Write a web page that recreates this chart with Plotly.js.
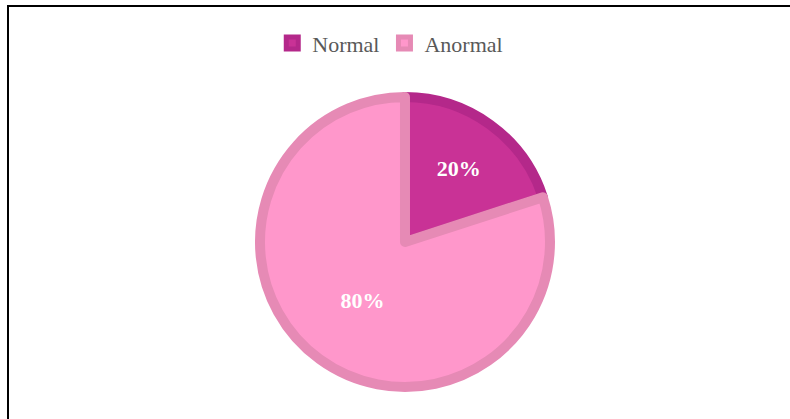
<!DOCTYPE html>
<html>
<head>
<meta charset="utf-8">
<script src="https://cdn.plot.ly/plotly-3.0.1.min.js"></script>
<style>
  html, body { margin: 0; padding: 0; background: #fff; }
  #graph-canvas { width: 790px; height: 419px; }
  #frame { position: absolute; left: 7px; top: 5px; right: 0; bottom: 0;
           border-left: 2px solid #000; border-top: 2px solid #000; pointer-events: none; }
</style>
</head>
<body>
<div id="graph-canvas"></div>
<div id="frame"></div>
<script>
var categories = ['Normal', 'Anormal'];
var shares = [20, 80];
var fillColors = ['#C93296', '#FF97CB'];
var edgeColors = ['#B4288A', '#E68AB5'];

function renderPie() {
    var serif = 'Times New Roman, Liberation Serif, serif';
    var data = [
        {
            type: 'pie',
            labels: categories,
            values: shares,
            sort: false,
            direction: 'clockwise',
            rotation: 0,
            marker: { colors: fillColors, line: { color: edgeColors, width: 10 } },
            textinfo: 'percent',
            texttemplate: '%{percent:.0%}',
            textposition: 'inside',
            insidetextorientation: 'horizontal',
            textfont: { family: serif, size: 22, color: '#ffffff', weight: 'bold' },
            domain: { x: [0.3291, 0.6962], y: [0.0764, 0.7685] },
            hoverinfo: 'none'
        }
    ];
    var layout = {
        width: 790,
        height: 419,
        margin: { l: 0, r: 0, t: 0, b: 0 },
        paper_bgcolor: '#ffffff',
        showlegend: true,
        legend: {
            orientation: 'h',
            x: 0.494, xanchor: 'center',
            y: 0.897, yanchor: 'middle',
            font: { family: serif, size: 22, color: '#595959' },
            itemclick: false
        }
    };
    Plotly.newPlot('graph-canvas', data, layout, { staticPlot: true });
}

renderPie();
</script>
</body>
</html>
